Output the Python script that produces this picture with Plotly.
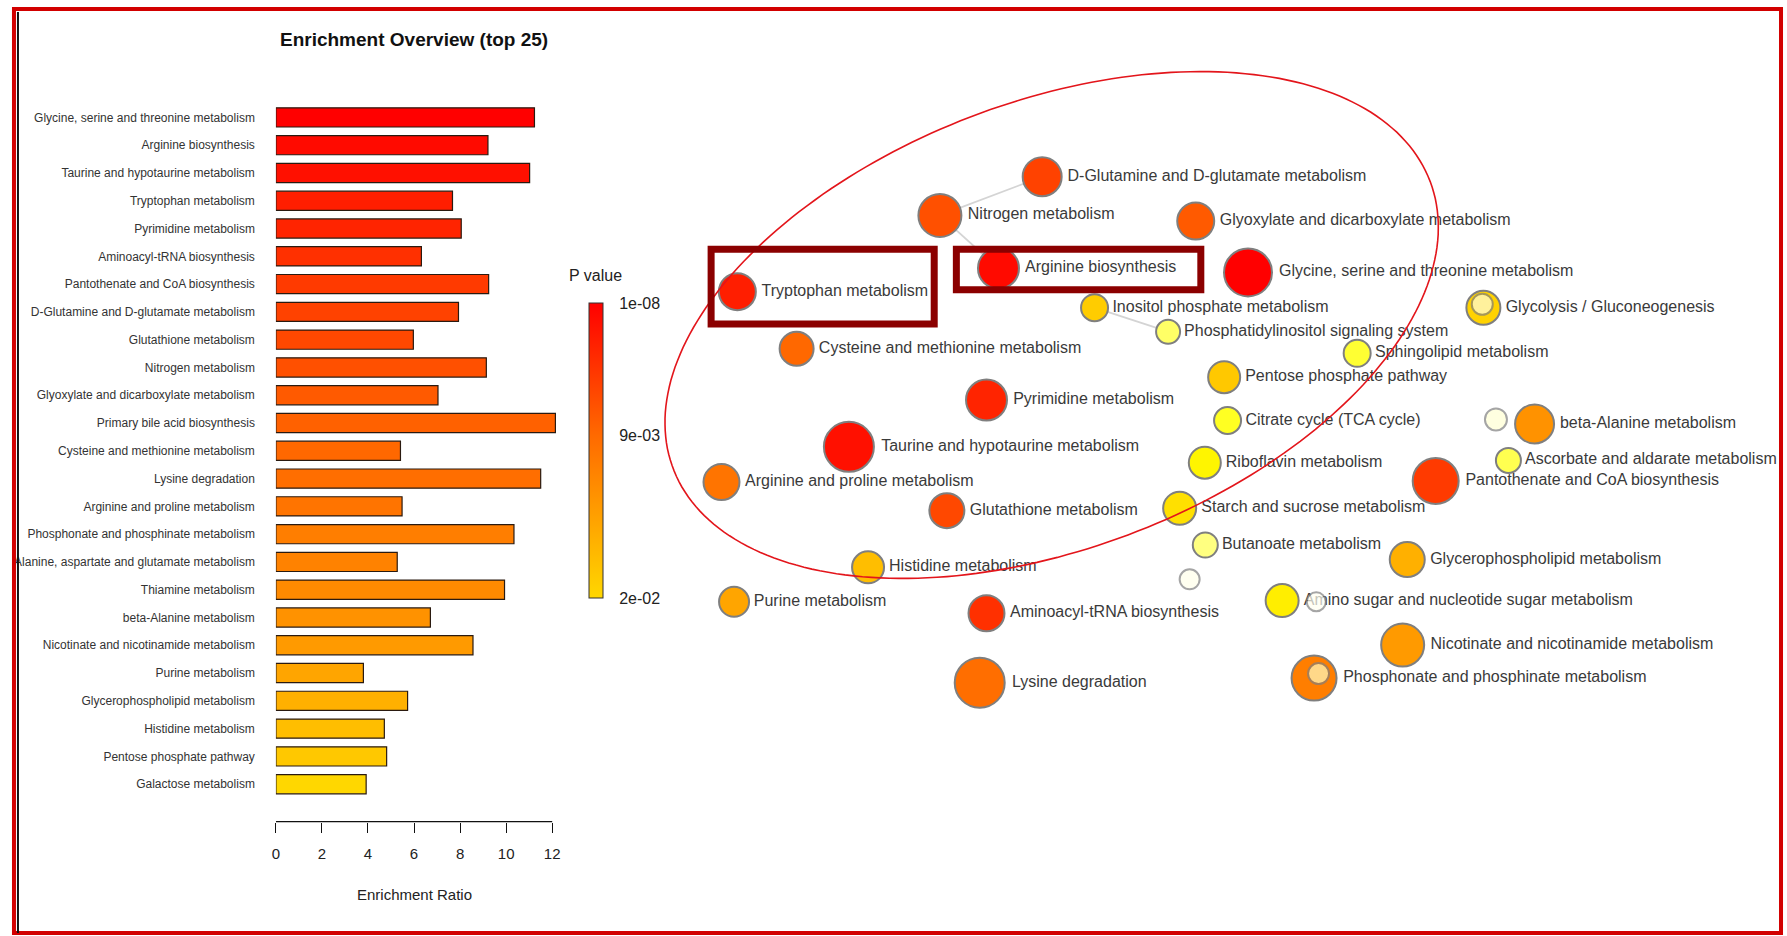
import numpy as np
import plotly.graph_objects as go

W, H = 1787, 936

# ---------------- data: bar chart ----------------
pathways = [
    "Glycine, serine and threonine metabolism", "Arginine biosynthesis",
    "Taurine and hypotaurine metabolism", "Tryptophan metabolism",
    "Pyrimidine metabolism", "Aminoacyl-tRNA biosynthesis",
    "Pantothenate and CoA biosynthesis", "D-Glutamine and D-glutamate metabolism",
    "Glutathione metabolism", "Nitrogen metabolism",
    "Glyoxylate and dicarboxylate metabolism", "Primary bile acid biosynthesis",
    "Cysteine and methionine metabolism", "Lysine degradation",
    "Arginine and proline metabolism", "Phosphonate and phosphinate metabolism",
    "Alanine, aspartate and glutamate metabolism", "Thiamine metabolism",
    "beta-Alanine metabolism", "Nicotinate and nicotinamide metabolism",
    "Purine metabolism", "Glycerophospholipid metabolism",
    "Histidine metabolism", "Pentose phosphate pathway", "Galactose metabolism",
]
enrichment_ratio = [11.23, 9.21, 11.02, 7.67, 8.05, 6.32, 9.24, 7.93, 5.97, 9.14,
                    7.04, 12.14, 5.41, 11.5, 5.48, 10.34, 5.27, 9.93, 6.71, 8.56,
                    3.8, 5.72, 4.71, 4.81, 3.92]
p_value = [1e-08, 0.00085, 0.00136, 0.00255, 0.00306, 0.0041, 0.0049, 0.0056,
           0.0061, 0.0068, 0.0076, 0.0082, 0.0088, 0.0094, 0.0100, 0.0110,
           0.0114, 0.0122, 0.0130, 0.0138, 0.0150, 0.0161, 0.0175, 0.0185, 0.0200]
x_ticks = [0, 2, 4, 6, 8, 10, 12]
cbar_ticks = [1e-08, 9e-03, 2e-02]
cbar_ticktext = ["1e-08", "9e-03", "2e-02"]

# ---------------- data: network ----------------
node_names = [
    "D-Glutamine and D-glutamate metabolism", "Nitrogen metabolism",
    "Glyoxylate and dicarboxylate metabolism", "Arginine biosynthesis",
    "Glycine, serine and threonine metabolism", "Tryptophan metabolism",
    "Inositol phosphate metabolism", "Phosphatidylinositol signaling system",
    "Glycolysis / Gluconeogenesis", "Cysteine and methionine metabolism",
    "Sphingolipid metabolism", "Pentose phosphate pathway",
    "Pyrimidine metabolism", "Citrate cycle (TCA cycle)",
    "beta-Alanine metabolism", "Taurine and hypotaurine metabolism",
    "Riboflavin metabolism", "Ascorbate and aldarate metabolism",
    "Arginine and proline metabolism", "Pantothenate and CoA biosynthesis",
    "Glutathione metabolism", "Starch and sucrose metabolism",
    "Butanoate metabolism", "Histidine metabolism",
    "Glycerophospholipid metabolism", "Purine metabolism",
    "Amino sugar and nucleotide sugar metabolism", "Aminoacyl-tRNA biosynthesis",
    "Nicotinate and nicotinamide metabolism", "Lysine degradation",
    "Phosphonate and phosphinate metabolism",
]
node_x = [1040.5, 938, 1194.4, 996.7, 1246.8, 735, 1093, 1166.7, 1482.7, 794.4,
          1356.2, 1222.9, 984.7, 1226.3, 1534, 846.8, 1203.5, 1507.8, 719.1, 1434.9,
          945, 1178.3, 1204, 866, 1406.4, 731.7, 1281, 984.7, 1401.8, 977.9, 1313]
node_y = [176.7, 215.4, 221.1, 268.3, 272.4, 291.7, 307.7, 331.7, 307.7, 348.7,
          353.3, 377.2, 400, 420.5, 424, 446.8, 462.7, 460.4, 482.1, 481,
          510.7, 508.3, 545, 567.3, 559.6, 601.8, 600.6, 613.2, 645.1, 682.7, 678.1]
node_hits = [39, 43, 37, 41, 48, 37, 27, 24, 34, 34, 27, 32, 41, 27, 39, 50, 32, 25,
             36, 46, 35, 33, 25, 32, 35, 30, 33, 36, 43, 50, 45]
extra_p = {
    "Inositol phosphate metabolism": 0.0189,
    "Phosphatidylinositol signaling system": 0.042,
    "Glycolysis / Gluconeogenesis": 0.0195,
    "Sphingolipid metabolism": 0.036,
    "Citrate cycle (TCA cycle)": 0.034,
    "Riboflavin metabolism": 0.0275,
    "Ascorbate and aldarate metabolism": 0.0394,
    "Starch and sucrose metabolism": 0.0222,
    "Butanoate metabolism": 0.045,
    "Amino sugar and nucleotide sugar metabolism": 0.0257,
}
# unlabeled nodes
minor_x = [1481.6, 1495.3, 1188.3, 1315.2, 1317.5]
minor_y = [304.3, 419.4, 579.3, 601.8, 673.6]
minor_hits = [21, 22, 20, 19, 21]
minor_p = [0.0575, 0.056, 0.059, 0.06, 0.054]
edges = [("D-Glutamine and D-glutamate metabolism", "Nitrogen metabolism"),
         ("Nitrogen metabolism", "Arginine biosynthesis"),
         ("Inositol phosphate metabolism", "Phosphatidylinositol signaling system")]

FONT = "Liberation Sans, Arial, sans-serif"
bar_scale = [[0, "#FFD700"], [0.55, "#FF6A00"], [1, "#FF0000"]]
net_scale = [[0, "#FFFFF2"], [0.25, "#FFFF80"], [0.5, "#FFFF00"], [0.6667, "#FFD700"],
             [0.85, "#FF6A00"], [1, "#FF0000"]]

p_lookup = dict(zip(pathways, p_value))
p_lookup.update(extra_p)
node_p = [p_lookup[n] for n in node_names]

BAR_LEFT = 272.5  # pixel position of x=0 on the bar axis

fig = go.Figure()

# ---------- bar chart ----------
fig.add_trace(go.Bar(
    x=enrichment_ratio, y=pathways, orientation="h",
    marker=dict(color=[-p for p in p_value], colorscale=bar_scale, cmin=-0.02, cmax=0,
                line=dict(color="#2a1a10", width=1.2), showscale=True,
                colorbar=dict(x=586 / W, xanchor="left", xpad=0, ypad=0,
                              y=1 - 450.5 / H, yanchor="middle",
                              lenmode="pixels", len=295, thickness=14,
                              outlinewidth=1, outlinecolor="#333",
                              tickvals=[-v for v in cbar_ticks], ticktext=cbar_ticktext,
                              ticks="outside", ticklen=13, tickcolor="rgba(0,0,0,0)",
                              tickfont=dict(size=16, color="#222", family=FONT))),
    xaxis="x", yaxis="y", hoverinfo="x+y",
))

# ---------- network ----------
pos = {n: (x, y) for n, x, y in zip(node_names, node_x, node_y)}
ex, ey = [], []
for a, b in edges:
    ex += [pos[a][0], pos[b][0], None]
    ey += [pos[a][1], pos[b][1], None]
fig.add_trace(go.Scatter(x=ex, y=ey, mode="lines", line=dict(color="#d4d4d4", width=1.8),
                         xaxis="x2", yaxis="y2", hoverinfo="skip"))
fig.add_trace(go.Scatter(
    x=node_x, y=node_y, mode="markers+text", text=node_names, textposition="middle right",
    textfont=dict(size=16, color="#3a3a3a", family=FONT),
    marker=dict(size=node_hits, color=[-p for p in node_p], colorscale=net_scale,
                cmin=-0.06, cmax=0, line=dict(color="#7f7f7f", width=2), opacity=1),
    xaxis="x2", yaxis="y2", hoverinfo="text",
))
fig.add_trace(go.Scatter(
    x=minor_x, y=minor_y, mode="markers",
    marker=dict(size=minor_hits, color=[-p for p in minor_p], colorscale=net_scale,
                cmin=-0.06, cmax=0, line=dict(color="#7f7f7f", width=2)),
    xaxis="x2", yaxis="y2", hoverinfo="skip",
))

# ---------- shapes ----------
shapes = []
ydom = [1 - 821.7 / H, 1 - 103.5 / H]
shapes.append(dict(type="line", xref="x", yref="paper", x0=0, x1=12, y0=ydom[0], y1=ydom[0],
                   line=dict(color="#111", width=1.2)))
# red ellipse
cx, cy, ea, eb, th = 1050, 325, 405.6, 223.4, np.radians(20.7)
t = np.linspace(0, 2 * np.pi, 240)
px = cx + ea * np.cos(t) * np.cos(th) + eb * np.sin(t) * np.sin(th)
py = cy - ea * np.cos(t) * np.sin(th) + eb * np.sin(t) * np.cos(th)
path = "M " + " L ".join(f"{a:.1f},{b:.1f}" for a, b in zip(px, py)) + " Z"
shapes.append(dict(type="path", path=path, xref="x2", yref="y2",
                   line=dict(color="#E3151B", width=1.6)))
# highlight boxes
shapes.append(dict(type="rect", xref="x2", yref="y2", x0=708.7, x1=932.3, y0=249.3, y1=324,
                   line=dict(color="#8B0000", width=7)))
shapes.append(dict(type="rect", xref="x2", yref="y2", x0=954.5, x1=1199.5, y0=249.2, y1=289.8,
                   line=dict(color="#8B0000", width=7)))
# frame
shapes.append(dict(type="rect", xref="paper", yref="paper", x0=0, x1=10 / W, y0=0, y1=1,
                   fillcolor="white", line=dict(width=0)))
shapes.append(dict(type="rect", xref="paper", yref="paper", x0=10 / W, x1=1781 / W,
                   y0=1 - 933 / H, y1=1 - 9 / H, line=dict(color="#D20000", width=4)))
shapes.append(dict(type="line", xref="paper", yref="paper", x0=14 / W, x1=14 / W,
                   y0=1 - 933 / H, y1=1 - 12 / H, line=dict(color="#111", width=2)))

annotations = [
    dict(text="<b>Enrichment Overview (top 25)</b>", x=411 / W, y=1 - 40 / H, xref="paper",
         yref="paper", showarrow=False, font=dict(size=19, color="#111", family=FONT),
         xanchor="center", yanchor="middle"),
    dict(text="Enrichment Ratio", x=6, y=1 - 894.7 / H, xref="x", yref="paper",
         showarrow=False, font=dict(size=15, color="#222", family=FONT),
         xanchor="center", yanchor="middle"),
    dict(text="P value", x=593 / W, y=1 - 275 / H, xref="paper", yref="paper",
         showarrow=False, font=dict(size=16, color="#222", family=FONT),
         xanchor="center", yanchor="middle"),
]

fig.update_layout(
    width=W, height=H, autosize=False, margin=dict(l=0, r=0, t=0, b=0, pad=0),
    paper_bgcolor="white", plot_bgcolor="rgba(0,0,0,0)", showlegend=False,
    bargap=0.31, font=dict(family=FONT, color="#222"),
    xaxis=dict(domain=[BAR_LEFT / W, (BAR_LEFT + 300) / W], range=[0, 13], anchor="y",
               tickvals=x_ticks, ticks="outside", ticklen=10, tickcolor="#111",
               tickwidth=1.2, showline=False, showgrid=False, zeroline=False,
               tickfont=dict(size=15, color="#222"), ticklabelstandoff=8),
    yaxis=dict(domain=ydom, anchor="x", type="category", categoryorder="array",
               categoryarray=pathways, range=[25.35, -0.5], ticks="",
               showline=False, showgrid=False, zeroline=False,
               tickfont=dict(size=12, color="#333"), ticklabelstandoff=20),
    xaxis2=dict(domain=[0, 1], range=[0, W], anchor="y2", visible=False, fixedrange=True),
    yaxis2=dict(domain=[0, 1], range=[H, 0], anchor="x2", visible=False, fixedrange=True),
    shapes=shapes, annotations=annotations,
)

fig.write_html("out.html")
